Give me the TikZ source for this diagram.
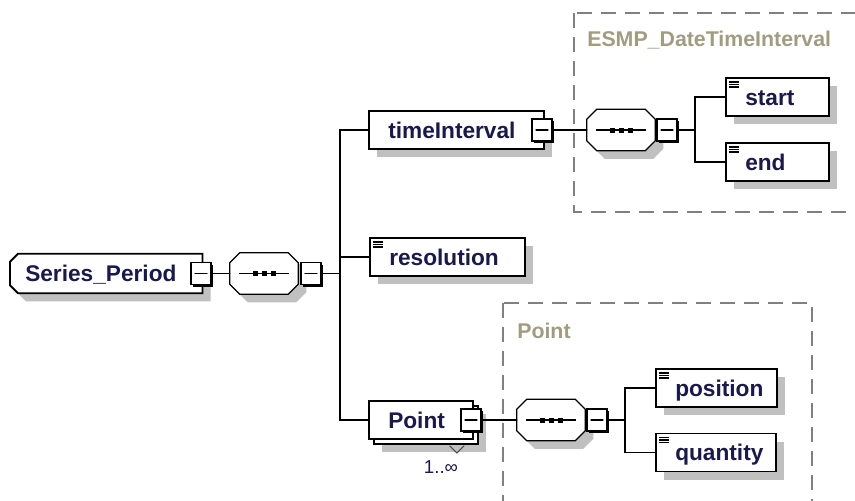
\documentclass[tikz,border=0pt]{standalone}
\usepackage{fontspec}
\setmainfont{Liberation Sans}
\usetikzlibrary{shadows}
\pgfdeclarelayer{background}
\pgfsetlayers{background,main}
\definecolor{cqcqcq}{rgb}{0.7529,0.7529,0.7529}
\definecolor{qqqqtt}{rgb}{0.1,0.1,0.3}
\definecolor{aaaauu}{rgb}{0.63,0.61,0.5}
\definecolor{sqsqsq}{rgb}{0.5,0.5,0.5}
\newcommand{\elemfont}{\fontsize{17}{20}\selectfont\bfseries\hyphenpenalty=10000}
\newcommand{\grpfont}{\fontsize{16}{19}\selectfont\bfseries}

\begin{document}
\begin{tikzpicture}[line cap=round,line join=miter,x=0.75pt,y=-0.75pt,
    xsshadow/.style={drop shadow={shadow xshift=6pt,shadow yshift=-6pt,fill=cqcqcq,opacity=1}},
    box/.style={rectangle,draw,line width=1.4pt,fill=white,anchor=west,minimum height=28.5pt,
        inner xsep=14.5pt,inner ysep=0pt,text height=14pt,text depth=2pt,align=left,
        font=\elemfont,text=qqqqtt},
    elem/.style={box,xsshadow},
    multi/.style={box,drop shadow={shadow xshift=9.75pt,shadow yshift=-9.75pt,fill=cqcqcq,opacity=1},
        copy shadow={shadow xshift=3.75pt,shadow yshift=-3.75pt,draw=black,fill=white,line width=1.4pt}},
    simple/.style={path picture={
        \foreach \k in {4,6.5,9}
            \draw[line width=0.8pt,line cap=butt] ([shift={(3,\k)}]path picture bounding box.north west) -- ++(10,0);}},
    rootbox/.style={rectangle,anchor=west,minimum height=29.25pt,inner xsep=11.25pt,inner ysep=0pt,
        text height=14pt,text depth=2pt,align=left,font=\elemfont,text=qqqqtt},
    seq/.style={rectangle,minimum width=51pt,minimum height=30.75pt,inner sep=0pt},
    octo/.style={insert path={([shift={(10,0)}]#1.north west) -- ([shift={(-10,0)}]#1.north east)
        -- ([shift={(0,10)}]#1.north east) -- ([shift={(0,-10)}]#1.south east)
        -- ([shift={(-10,0)}]#1.south east) -- ([shift={(10,0)}]#1.south west)
        -- ([shift={(0,-10)}]#1.south west) -- ([shift={(0,10)}]#1.north west) -- cycle}},
    rootsh/.style={insert path={([shift={(8,0)}]#1.north west) -- (#1.north east) -- (#1.south east)
        -- ([shift={(8,0)}]#1.south west) -- ([shift={(0,-8)}]#1.south west)
        -- ([shift={(0,8)}]#1.north west) -- cycle}},
    mbox/.style={rectangle,draw,line width=1pt,fill=white,minimum width=15pt,minimum height=16.5pt,inner sep=0pt,
        drop shadow={shadow xshift=1.5pt,shadow yshift=-1.5pt,fill=black,opacity=1},
        path picture={\draw[line width=0.8pt] ([xshift=3pt]path picture bounding box.west) -- ([xshift=-3pt]path picture bounding box.east);}},
    grp/.style={draw=sqsqsq,line width=1.1pt,line cap=butt,dash pattern=on 11pt off 7pt},
    glabel/.style={anchor=base west,inner sep=0pt,font=\grpfont,text=aaaauu},
    wire/.style={line width=1.1pt}]
    \useasboundingbox (0,0) rectangle (855,500);
    \clip (0,0) rectangle (855,500);
    % groups of the two complex types
    \draw[grp] (574,13) rectangle (900,212);
    \node[glabel] (esmp) at (587,46) {ESMP\_DateTimeInterval};
    \draw[grp] (503,303) rectangle (812,530);
    \node[glabel] (ptgrp) at (517,338) {Point};
    % root and first sequence
    \node[rootbox,text width=121.5pt] (sp) at (10,273.5) {Series\_Period};
    \node[mbox] (spm) at (201,273.5) {};
    \node[seq] (s1) at (264,273.5) {};
    \node[mbox] (s1m) at (311,273.5) {};
    \coordinate (b1) at (340,273.5);
    \node[elem,text width=102.25pt] (ti) at (368,130) {timeInterval};
    \node[mbox] (tim) at (542,130) {};
    \node[elem,simple,text width=87.25pt] (res) at (369,257) {resolution};
    \node[multi,text width=49pt] (pt) at (368,420) {Point};
    \node[mbox] (ptm) at (471,420) {};
    \draw[line width=0.8pt,black!70] ([shift={(-24,6)}]pt.south east) -- ++(7,7) -- ++(7,-7);
    \node[font=\fontsize{14}{16}\selectfont,text=qqqqtt,inner sep=0pt,anchor=base] (ptocc) at (441,473) {1..∞};
    % timeInterval content
    \node[seq] (s2) at (621,130) {};
    \node[mbox] (s2m) at (667,130) {};
    \coordinate (b2) at (695,130);
    \node[elem,simple,text width=48.25pt] (st) at (725,97) {start};
    \node[elem,simple,text width=48.25pt] (en) at (725,162) {end};
    % Point content
    \node[seq] (s3) at (551,420) {};
    \node[mbox] (s3m) at (597,420) {};
    \coordinate (b3) at (625,420);
    \node[elem,simple,text width=61.75pt] (pos) at (655,388) {position};
    \node[elem,simple,text width=61pt] (qty) at (655,452.5) {quantity};
    % outlines of root and sequences
    \begin{pgfonlayer}{background}
    \fill[cqcqcq,transform canvas={xshift=6pt,yshift=-6pt},rootsh=sp];
    \draw[line width=1.4pt,fill=white,rootsh=sp];
    \foreach \n in {s1,s2,s3}{
        \fill[cqcqcq,transform canvas={xshift=6pt,yshift=-6pt},octo=\n];
        \draw[line width=1pt,fill=white,octo=\n];
        \draw[line width=1pt] ([xshift=7pt]\n.west) -- ([xshift=-7pt]\n.east);
        \foreach \d in {-9,0,9}
            \fill ([xshift=\d*0.75pt]\n.center) +(-2.5,-2.5) rectangle +(2.5,2.5);
    }
    \end{pgfonlayer}
    % connectors
    \draw[wire] (spm) -- (s1);
    \draw[wire] (s1m) -- (b1);
    \draw[wire] (ti.west) -| (b1) |- (pt.west);
    \draw[wire] (res.west) -- (res.west -| b1);
    \draw[wire] (tim) -- (s2);
    \draw[wire] (s2m) -- (b2);
    \draw[wire] (st.west) -| (b2) |- (en.west);
    \draw[wire] (ptm) -- (s3);
    \draw[wire] (s3m) -- (b3);
    \draw[wire] (pos.west) -| (b3) |- (qty.west);
\end{tikzpicture}
\end{document}
